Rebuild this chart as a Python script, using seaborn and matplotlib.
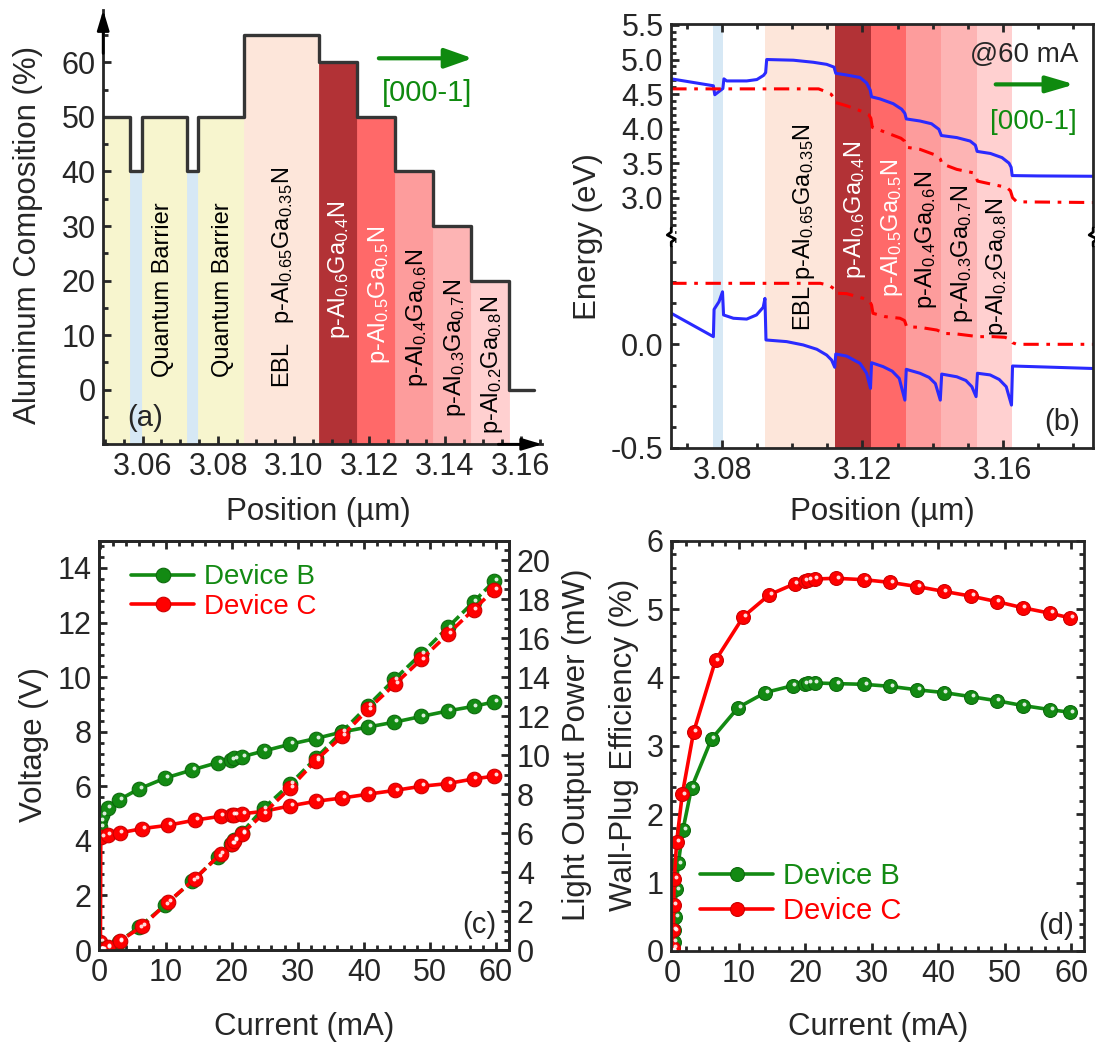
import matplotlib
matplotlib.use("Agg")
import matplotlib.pyplot as plt
import matplotlib.transforms as mtransforms
from matplotlib.lines import Line2D
from matplotlib.patches import Rectangle
from matplotlib.ticker import MultipleLocator, FixedLocator, FormatStrFormatter
import seaborn as sns

# ------------------------------------------------------------------ data
# (a) aluminum composition profile
layer_edges_a = [3.0496, 3.0568, 3.0598, 3.0718, 3.0748, 3.0868, 3.1068,
                 3.1168, 3.1268, 3.1368, 3.1468, 3.1568, 3.1634]
al_composition = [50, 40, 50, 40, 50, 65, 60, 50, 40, 30, 20, 0]
layer_kind_a = ["qb", "qw", "qb", "qw", "qb", "ebl", "p60", "p50", "p40", "p30", "p20", None]

label_text_a = ["Quantum Barrier", "Quantum Barrier",
                r"EBL   p-$\mathregular{Al_{0.65}Ga_{0.35}N}$",
                r"p-$\mathregular{Al_{0.6}Ga_{0.4}N}$",
                r"p-$\mathregular{Al_{0.5}Ga_{0.5}N}$",
                r"p-$\mathregular{Al_{0.4}Ga_{0.6}N}$",
                r"p-$\mathregular{Al_{0.3}Ga_{0.7}N}$",
                r"p-$\mathregular{Al_{0.2}Ga_{0.8}N}$"]
label_x_a = [3.0655, 3.0812, 3.0972, 3.1119, 3.1225, 3.1326, 3.1427, 3.1524]
label_y_a = [18.3, 18.3, 20.5, 22.0, 17.4, 13.1, 7.6, 4.6]
label_color_a = ["black", "black", "black", "white", "white", "black", "black", "black"]

# (b) band diagram @60 mA
layer_spans_b = [(3.0775, 3.0803, "qw"), (3.0922, 3.1122, "ebl"), (3.1122, 3.1224, "p60"),
                 (3.1224, 3.1324, "p50"), (3.1324, 3.1424, "p40"), (3.1424, 3.1526, "p30"),
                 (3.1526, 3.1626, "p20")]
cb_x = [3.0655, 3.0775, 3.0779, 3.0802, 3.0805, 3.0813, 3.0870, 3.0899, 3.0918, 3.0924,
        3.0927, 3.1003, 3.1060, 3.1098, 3.1119, 3.1124, 3.1150, 3.1193, 3.1212, 3.1222,
        3.1226, 3.1250, 3.1288, 3.1312, 3.1321, 3.1325, 3.1364, 3.1397, 3.1418, 3.1425,
        3.1469, 3.1507, 3.1522, 3.1527, 3.1565, 3.1598, 3.1618, 3.1624, 3.1627, 3.1700, 3.1858]
cb_e = [4.72, 4.62, 4.49, 4.58, 4.72, 4.69, 4.69, 4.71, 4.77, 4.81,
        5.00, 4.99, 4.96, 4.93, 4.89, 4.80, 4.78, 4.74, 4.66, 4.56,
        4.46, 4.43, 4.36, 4.28, 4.22, 4.14, 4.11, 4.07, 3.99, 3.90,
        3.87, 3.82, 3.76, 3.67, 3.64, 3.58, 3.50, 3.44, 3.32, 3.315, 3.31]
efn_x = [3.0655, 3.1075, 3.1088, 3.1110, 3.1118, 3.1122, 3.1155, 3.1193, 3.1218, 3.1224,
         3.1228, 3.1269, 3.1310, 3.1320, 3.1326, 3.1364, 3.1412, 3.1422, 3.1427, 3.1469,
         3.1516, 3.1523, 3.1528, 3.1573, 3.1611, 3.1622, 3.1628, 3.1640, 3.1858]
efn_e = [4.575, 4.575, 4.55, 4.50, 4.45, 4.38, 4.33, 4.26, 4.20, 4.15,
         4.02, 3.94, 3.86, 3.82, 3.73, 3.70, 3.61, 3.56, 3.49, 3.41,
         3.36, 3.32, 3.24, 3.19, 3.15, 3.10, 3.00, 2.94, 2.93]
efp_x = [3.0655, 3.1080, 3.1105, 3.1118, 3.1124, 3.1155, 3.1203, 3.1220, 3.1226, 3.1230,
         3.1264, 3.1307, 3.1320, 3.1326, 3.1364, 3.1412, 3.1422, 3.1428, 3.1469, 3.1516,
         3.1524, 3.1530, 3.1573, 3.1606, 3.1620, 3.1628, 3.1640, 3.1858]
efp_e = [0.295, 0.295, 0.285, 0.27, 0.247, 0.245, 0.222, 0.21, 0.19, 0.15,
         0.134, 0.126, 0.115, 0.085, 0.082, 0.069, 0.062, 0.053, 0.05, 0.04,
         0.037, 0.037, 0.037, 0.034, 0.025, 0.008, 0.0, 0.0]
vb_x = [3.0655, 3.0775, 3.0777, 3.0791, 3.0801, 3.0804, 3.0832, 3.0870, 3.0898, 3.0917,
        3.0922, 3.0925, 3.0984, 3.1031, 3.1070, 3.1098, 3.1112, 3.1121, 3.1124, 3.1155,
        3.1193, 3.1212, 3.1223, 3.1226, 3.1259, 3.1285, 3.1305, 3.1321, 3.1325, 3.1364,
        3.1390, 3.1408, 3.1422, 3.1426, 3.1469, 3.1495, 3.1512, 3.1524, 3.1528, 3.1564,
        3.1590, 3.1610, 3.1625, 3.1628, 3.1687, 3.1858]
vb_e = [0.150, 0.037, 0.169, 0.206, 0.254, 0.142, 0.126, 0.122, 0.142, 0.179,
        0.222, 0.021, 0.013, -0.003, -0.024, -0.052, -0.076, -0.111, -0.047, -0.057,
        -0.092, -0.14, -0.213, -0.089, -0.108, -0.13, -0.165, -0.27, -0.121, -0.14,
        -0.16, -0.19, -0.27, -0.144, -0.157, -0.175, -0.205, -0.253, -0.14, -0.148,
        -0.17, -0.205, -0.294, -0.105, -0.108, -0.117]
label_text_b = [r"EBL p-$\mathregular{Al_{0.65}Ga_{0.35}N}$",
                r"p-$\mathregular{Al_{0.6}Ga_{0.4}N}$",
                r"p-$\mathregular{Al_{0.5}Ga_{0.5}N}$",
                r"p-$\mathregular{Al_{0.4}Ga_{0.6}N}$",
                r"p-$\mathregular{Al_{0.3}Ga_{0.7}N}$",
                r"p-$\mathregular{Al_{0.2}Ga_{0.8}N}$"]
label_x_b = [3.1034, 3.1178, 3.1285, 3.1380, 3.1485, 3.1585]
label_ypx_b = [226.7, 210, 228, 240, 254, 267]
label_color_b = ["black", "white", "white", "black", "black", "black"]

# (c) voltage and light output power vs current
cur_B_c = [0.0, 0.05, 0.1, 0.3, 1.2, 2.9, 5.9, 9.9, 14.0, 17.9, 19.9, 20.4, 21.5,
           24.8, 28.8, 32.7, 36.7, 40.6, 44.6, 48.7, 52.7, 56.6, 59.7]
volt_B = [0.0, 4.5, 4.75, 4.95, 5.2, 5.5, 5.9, 6.3, 6.6, 6.87, 6.98, 7.02, 7.08,
          7.29, 7.54, 7.75, 7.99, 8.17, 8.35, 8.56, 8.76, 8.93, 9.09]
lop_B = [0.0, 0.0, 0.01, 0.03, 0.12, 0.42, 1.16, 2.3, 3.54, 4.79, 5.45, 5.64, 6.02,
         7.27, 8.51, 9.83, 11.2, 12.53, 13.88, 15.2, 16.55, 17.86, 18.92]
cur_C_c = [0.0, 0.1, 0.15, 1.2, 3.0, 6.45, 10.3, 14.4, 18.3, 20.0, 20.4, 21.5,
           24.8, 28.8, 32.7, 36.7, 40.6, 44.7, 48.7, 52.7, 56.6, 59.7]
volt_C = [0.0, 0.3, 4.15, 4.21, 4.29, 4.45, 4.57, 4.76, 4.9, 4.94, 4.96, 4.99,
          5.08, 5.28, 5.45, 5.57, 5.71, 5.85, 6.0, 6.1, 6.27, 6.37]
lop_C = [0.0, 0.0, 0.02, 0.14, 0.45, 1.22, 2.45, 3.65, 4.93, 5.45, 5.6, 5.95,
         7.0, 8.3, 9.71, 10.97, 12.34, 13.64, 14.91, 16.2, 17.47, 18.46]

# (d) wall-plug efficiency vs current
cur_B_d = [0.0, 0.2, 0.3, 0.4, 0.56, 0.9, 1.6, 2.9, 5.9, 9.9, 14.0, 18.1, 19.9, 20.4,
           21.4, 24.7, 28.8, 32.8, 36.8, 40.8, 44.9, 48.8, 52.7, 56.8, 59.9]
wpe_B = [0.0, 0.13, 0.3, 0.5, 0.9, 1.28, 1.77, 2.39, 3.1, 3.56, 3.78, 3.88, 3.91, 3.92,
         3.92, 3.91, 3.90, 3.87, 3.82, 3.78, 3.72, 3.66, 3.59, 3.53, 3.49]
cur_C_d = [0.0, 0.15, 0.18, 0.2, 0.3, 0.66, 1.5, 3.2, 6.5, 10.7, 14.6, 18.4, 19.9, 20.4,
           21.4, 24.7, 28.8, 32.8, 36.8, 40.8, 44.9, 48.8, 52.7, 56.8, 59.9]
wpe_C = [0.0, 0.04, 0.31, 0.67, 1.05, 1.6, 2.29, 3.2, 4.25, 4.89, 5.21, 5.37, 5.41, 5.43,
         5.44, 5.45, 5.43, 5.39, 5.33, 5.26, 5.19, 5.11, 5.02, 4.94, 4.87]

device_names = ["Device B", "Device C"]

# ------------------------------------------------------------------ style
sns.set_style("ticks")
plt.rcParams["font.family"] = ["Liberation Sans", "DejaVu Sans"]
plt.rcParams["mathtext.fontset"] = "custom"
plt.rcParams["mathtext.rm"] = "Liberation Sans"
plt.rcParams["mathtext.it"] = "Liberation Sans:italic"
plt.rcParams["mathtext.default"] = "regular"
plt.rcParams["axes.unicode_minus"] = False
plt.rcParams["axes.linewidth"] = 2.0

layer_colors = {"qb": "#f7f5ce", "qw": "#d6e8f5", "ebl": "#fde6da", "p60": "#b23236",
                "p50": "#ff6969", "p40": "#fd9c9c", "p30": "#fdb4b4", "p20": "#ffd0d0"}
GREEN = "#138a13"
GREEN_ARROW = "#0f8a0f"
RED = "#ff0000"
BLUE = "#2a2aff"
STEP = "#353535"

W, H = 1095, 1046
fig = plt.figure(figsize=(W / 100, H / 100), dpi=100)


def box(x0, y0, x1, y1):
    return [x0 / W, 1 - y1 / H, (x1 - x0) / W, (y1 - y0) / H]


def ftext(x, y, s, **kw):
    fig.text(x / W, 1 - y / H, s, ha="center", va="center", **kw)


def style_ticks(ax):
    ax.tick_params(which="both", direction="in", width=2, labelsize=22, pad=5.5)
    ax.tick_params(which="major", length=6)
    ax.tick_params(which="minor", length=3.5)
    for sp in ax.spines.values():
        sp.set_linewidth(2)


def line(ax, x, y, color, lw, **kw):
    sns.lineplot(x=x, y=y, ax=ax, color=color, lw=lw, estimator=None, sort=False,
                 errorbar=None, **kw)
    return ax.lines[-1]


def marker_line(ax, x, y, color, edge, ls="-", ms=10.0):
    ln = line(ax, x, y, color, 2.6, linestyle=ls, marker="o", markersize=ms,
              markerfacecolor=color, markeredgecolor=edge, markeredgewidth=0.8)
    off = ax.transData + mtransforms.ScaledTranslation(1.8 / 100, 1.8 / 100, fig.dpi_scale_trans)
    sns.scatterplot(x=x, y=y, ax=ax, s=8, color="white", alpha=0.85, linewidth=0,
                    transform=off, zorder=ln.get_zorder() + 0.1)
    return ln


# ------------------------------------------------------------------ (a)
ax_a = fig.add_axes(box(103.2, 10, 542.2, 444.3))
for i, kind in enumerate(layer_kind_a):
    if kind is None:
        continue
    ax_a.fill_between([layer_edges_a[i], layer_edges_a[i + 1]], -10, al_composition[i],
                      color=layer_colors[kind], lw=0.6, zorder=0)
step_y = al_composition + [al_composition[-1]]
line(ax_a, layer_edges_a, step_y, STEP, 2.4, drawstyle="steps-post")
ax_a.set_xlim(3.0496, 3.1657)
ax_a.set_ylim(-10, 69.6)
ax_a.spines[["top", "right"]].set_visible(False)
style_ticks(ax_a)
ax_a.xaxis.set_major_locator(MultipleLocator(0.02))
ax_a.xaxis.set_minor_locator(MultipleLocator(0.005))
ax_a.xaxis.set_major_formatter(FormatStrFormatter("%.2f"))
ax_a.yaxis.set_major_locator(FixedLocator([0, 10, 20, 30, 40, 50, 60]))
ax_a.yaxis.set_minor_locator(MultipleLocator(5))
ax_a.set_xlabel("")
ax_a.set_ylabel("")
for s, x, y, c in zip(label_text_a, label_x_a, label_y_a, label_color_a):
    ax_a.text(x, y, s, rotation=90, ha="center", va="center", fontsize=17, color=c)
axis_arrow = dict(arrowstyle="-|>,head_length=0.6,head_width=0.18", color="black", lw=2,
                  mutation_scale=20, shrinkA=0, shrinkB=0)
ax_a.annotate("", xy=(0, 1), xytext=(0, 0.9), xycoords="axes fraction",
              textcoords="axes fraction", arrowprops=axis_arrow)
ax_a.annotate("", xy=(1, 0), xytext=(0.9, 0), xycoords="axes fraction",
              textcoords="axes fraction", arrowprops=axis_arrow)
ax_a.annotate("", xy=(3.1473, 60.75), xytext=(3.1225, 60.75),
              arrowprops=dict(arrowstyle="-|>,head_length=0.85,head_width=0.3",
                              color=GREEN_ARROW, lw=3, mutation_scale=20, shrinkA=0, shrinkB=0))
ax_a.text(3.1352, 54.3, "[000-1]", color=GREEN_ARROW, fontsize=21, ha="center", va="center")
ftext(145, 417.5, "(a)", fontsize=21)
ftext(28.5, 235, "Aluminum Composition (%)", fontsize=22.5, rotation=90)
ftext(318.7, 512, "Position (µm)", fontsize=22.5)

# ------------------------------------------------------------------ (b)
ax_bt = fig.add_axes(box(671.3, 24, 1093.2, 237))
ax_bb = fig.add_axes(box(671.3, 237, 1093.2, 448))
for ax in (ax_bt, ax_bb):
    for x0, x1, kind in layer_spans_b:
        ax.axvspan(x0, x1, color=layer_colors[kind], lw=0, zorder=0)
    ax.set_xlim(3.0655, 3.1858)
    style_ticks(ax)
    ax.xaxis.set_major_locator(MultipleLocator(0.04))
    ax.xaxis.set_minor_locator(MultipleLocator(0.01))
    ax.xaxis.set_major_formatter(FormatStrFormatter("%.2f"))
    ax.yaxis.set_major_formatter(FormatStrFormatter("%.1f"))
    ax.yaxis.set_minor_locator(MultipleLocator(0.1))
    ax.tick_params(axis="y", which="both", right=False)
dashdot = (0, (5, 2.5, 1.2, 2.5))
line(ax_bt, cb_x, cb_e, BLUE, 2.2)
line(ax_bt, efn_x, efn_e, RED, 2.2, linestyle=dashdot)
line(ax_bb, vb_x, vb_e, BLUE, 2.2)
line(ax_bb, efp_x, efp_e, RED, 2.2, linestyle=dashdot)
for ax in (ax_bt, ax_bb):
    ax.set_xlim(3.0655, 3.1858)
    ax.set_xlabel("")
    ax.set_ylabel("")
ax_bt.set_ylim(2.431, 5.514)
ax_bb.set_ylim(-0.5015, 0.519)
ax_bt.yaxis.set_major_locator(FixedLocator([3.0, 3.5, 4.0, 4.5, 5.0, 5.5]))
ax_bb.yaxis.set_major_locator(FixedLocator([-0.5, 0.0]))
ax_bt.spines["bottom"].set_visible(False)
ax_bb.spines["top"].set_visible(False)
ax_bt.tick_params(axis="x", which="both", bottom=False, labelbottom=False, top=True)
ax_bb.tick_params(axis="x", which="both", top=False)

tr_b = mtransforms.blended_transform_factory(ax_bt.transData, fig.transFigure)
for s, x, ypx, c in zip(label_text_b, label_x_b, label_ypx_b, label_color_b):
    fig.text(x, 1 - ypx / H, s, transform=tr_b, rotation=90, ha="center", va="center",
             fontsize=17, color=c, zorder=5)
ax_bt.annotate("", xy=(3.1805, 4.64), xytext=(3.158, 4.64),
               arrowprops=dict(arrowstyle="-|>,head_length=0.85,head_width=0.25",
                               color=GREEN_ARROW, lw=3, mutation_scale=20, shrinkA=0, shrinkB=0))
ftext(1024.5, 55, "@60 mA", fontsize=20)
ftext(1033.2, 121.7, "[000-1]", fontsize=20, color=GREEN_ARROW)
ftext(1062.4, 422.5, "(b)", fontsize=21)
ftext(587.8, 236.7, "Energy (eV)", fontsize=22.5, rotation=90)
ftext(882.4, 512, "Position (µm)", fontsize=22.5)

# break marks
for xpx in (671.3, 1093.2):
    fig.add_artist(Rectangle(((xpx - 4) / W, 1 - 246 / H), 8 / W, 18 / H,
                             transform=fig.transFigure, facecolor="white",
                             edgecolor="none", zorder=20))
    pts = [(0, -9), (0, -5), (-4, -2), (4, 2), (0, 5), (0, 9)]
    fig.add_artist(Line2D([(xpx + dx) / W for dx, dy in pts],
                          [1 - (237 + dy) / H for dx, dy in pts],
                          transform=fig.transFigure, color="black", lw=2, zorder=21))

# ------------------------------------------------------------------ (c)
ax_c = fig.add_axes(box(99.1, 540.7, 509.2, 950))
ax_c2 = ax_c.twinx()
hB = marker_line(ax_c, cur_B_c, volt_B, GREEN, "#0c6a0c", ms=10.5)
hC = marker_line(ax_c, cur_C_c, volt_C, RED, "#cc0000", ms=10.5)
marker_line(ax_c2, cur_B_c, lop_B, GREEN, "#0c6a0c", ls=(0, (3, 1.3)), ms=10.5)
marker_line(ax_c2, cur_C_c, lop_C, RED, "#cc0000", ls=(0, (3, 1.3)), ms=10.5)
ax_c.set_xlim(-0.1, 62.0)
ax_c.set_ylim(0, 15)
ax_c2.set_ylim(0, 21)
for ax in (ax_c, ax_c2):
    ax.set_xlabel("")
    ax.set_ylabel("")
    style_ticks(ax)
ax_c.xaxis.set_major_locator(MultipleLocator(10))
ax_c.xaxis.set_minor_locator(MultipleLocator(2))
ax_c.yaxis.set_major_locator(MultipleLocator(2))
ax_c.yaxis.set_minor_locator(MultipleLocator(0.4))
ax_c2.yaxis.set_major_locator(MultipleLocator(2))
ax_c2.yaxis.set_minor_locator(MultipleLocator(0.5))
ax_c.tick_params(axis="x", which="both", top=True)
ax_c.tick_params(axis="y", which="both", right=False)
ax_c2.tick_params(axis="y", which="both", left=False, right=True)
leg = ax_c.legend([hB, hC], device_names, loc="upper left",
                  bbox_to_anchor=(131 / W, 1 - 564.5 / H), bbox_transform=fig.transFigure,
                  frameon=False, fontsize=20, handlelength=2.28, handletextpad=0.35,
                  labelspacing=0.12, borderpad=0, borderaxespad=0)
for t, c in zip(leg.get_texts(), [GREEN, RED]):
    t.set_color(c)
ftext(479.7, 925, "(c)", fontsize=21)
ftext(33.7, 745, "Voltage (V)", fontsize=22.5, rotation=90)
ftext(304.1, 1026.7, "Current (mA)", fontsize=22.5)
ftext(577.3, 745, "Light Output Power (mW)", fontsize=22.5, rotation=90)

# ------------------------------------------------------------------ (d)
ax_d = fig.add_axes(box(671.3, 540.7, 1084.1, 951))
dB = marker_line(ax_d, cur_B_d, wpe_B, GREEN, "#0c6a0c")
dC = marker_line(ax_d, cur_C_d, wpe_C, RED, "#cc0000")
ax_d.set_xlim(-0.15, 61.95)
ax_d.set_ylim(0, 6)
ax_d.set_xlabel("")
ax_d.set_ylabel("")
style_ticks(ax_d)
ax_d.xaxis.set_major_locator(MultipleLocator(10))
ax_d.xaxis.set_minor_locator(MultipleLocator(2))
ax_d.yaxis.set_major_locator(MultipleLocator(1))
ax_d.yaxis.set_minor_locator(MultipleLocator(0.2))
ax_d.tick_params(which="both", top=True, right=True)
leg = ax_d.legend([dB, dC], device_names, loc="upper left",
                  bbox_to_anchor=(700.4 / W, 1 - 862 / H), bbox_transform=fig.transFigure,
                  frameon=False, fontsize=21, handlelength=2.5, handletextpad=0.34,
                  labelspacing=0.25, borderpad=0, borderaxespad=0)
for t, c in zip(leg.get_texts(), [GREEN, RED]):
    t.set_color(c)
ftext(1056, 925.8, "(d)", fontsize=21)
ftext(623.9, 745, "Wall-Plug Efficiency (%)", fontsize=22.5, rotation=90)
ftext(878.2, 1026.7, "Current (mA)", fontsize=22.5)

fig.savefig("out.png", dpi=100)
